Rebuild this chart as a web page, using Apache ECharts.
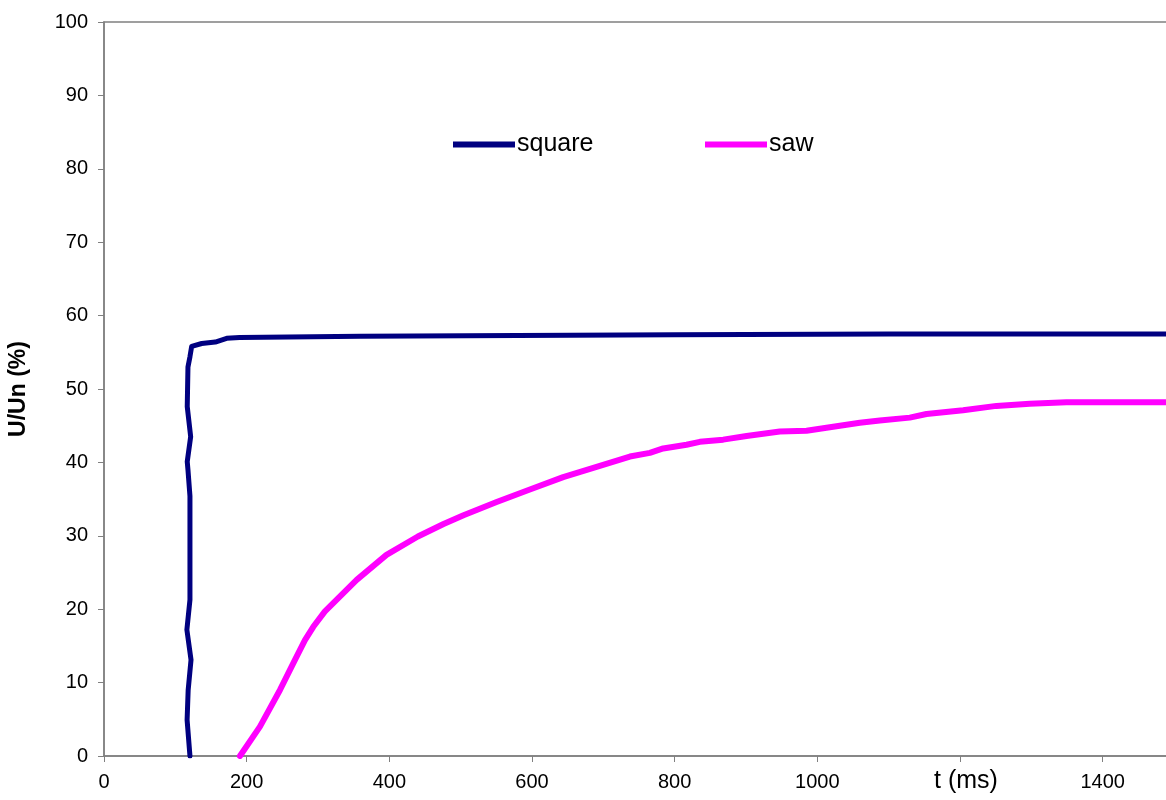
<!DOCTYPE html>
<html>
<head>
<meta charset="utf-8">
<script src="https://cdn.jsdelivr.net/npm/echarts@6/dist/echarts.min.js"></script>
<style>
html,body{margin:0;padding:0;background:#fff;}
#chart{width:1166px;height:800px;}
</style>
</head>
<body>
<div id="chart"></div>
<script>
// Data
const squareT = [120.5,116.5,118,122,116.2,120.5,120.5,117.7,116.7,121.5,116.7,117.7,120.5,122.9,125,137,156,172,190,360,800,1100,1500];
const squareU = [0,4.9,9,13.1,17.2,21.3,35.4,39,40.1,43.5,47.6,53,54.4,55.8,56.0,56.2,56.4,56.9,57.0,57.2,57.4,57.5,57.5];
const sawT = [190.6,218.6,246.7,267.7,281.7,293.4,309.7,354.2,396,440,476,504,550.4,597,643.7,690.5,737.2,765.2,783.9,816.6,835.3,868,900.8,947.4,984.9,1017.5,1059.6,1087.6,1129.6,1153,1204.4,1251.1,1297.8,1349.2,1500];
const sawU = [0,4.0,9.0,13.1,15.8,17.6,19.7,24.0,27.4,29.9,31.6,32.8,34.6,36.3,38.0,39.4,40.8,41.3,41.9,42.4,42.8,43.1,43.6,44.2,44.3,44.8,45.4,45.7,46.1,46.6,47.1,47.7,48.0,48.2,48.2];
const seriesNames = ['square','saw'];
const xTickHidden = [1200, 1500];
const xAxisTitle = 't (ms)';
const yAxisTitle = 'U/Un (%)';

const zip = (a,b) => a.map((v,i)=>[v,b[i]]);

const chart = echarts.init(document.getElementById('chart'), null, {renderer:'canvas'});
const font = 'Liberation Sans, Arial, sans-serif';
chart.setOption({
  animation:false,
  backgroundColor:'#fff',
  grid:{left:104,right:-8,top:22,bottom:44,outerBoundsMode:'none',containLabel:false,show:true,borderColor:'#808080',borderWidth:1.5,backgroundColor:'transparent'},
  legend:[
    {left:448,top:127,itemWidth:62,itemHeight:6,icon:'rect',data:[seriesNames[0]],
     textStyle:{fontFamily:font,fontSize:25,color:'#000',padding:[0,0,0,-3]}},
    {left:700,top:127,itemWidth:62,itemHeight:6,icon:'rect',data:[seriesNames[1]],
     textStyle:{fontFamily:font,fontSize:25,color:'#000',padding:[0,0,0,-3]}}
  ],
  xAxis:{type:'value',min:0,max:1500,interval:200,
    axisLine:{show:true,onZero:false,lineStyle:{color:'#808080',width:1.5}},
    axisTick:{show:true,inside:false,length:6,lineStyle:{color:'#808080'}},
    splitLine:{show:false},
    axisLabel:{fontFamily:font,fontSize:20,color:'#000',margin:16,showMaxLabel:false,
      formatter:v=> xTickHidden.includes(v)?'':String(v)}
  },
  yAxis:{type:'value',min:0,max:100,interval:10,
    name:yAxisTitle,nameLocation:'middle',nameRotate:90,nameGap:74,
    nameTextStyle:{fontFamily:font,fontSize:23,fontWeight:'bold',color:'#000'},
    axisLine:{show:true,lineStyle:{color:'#808080',width:1.5}},
    axisTick:{show:true,inside:false,length:6,lineStyle:{color:'#808080'}},
    splitLine:{show:false},
    axisLabel:{fontFamily:font,fontSize:20,color:'#000',margin:16}
  },
  graphic:[{type:'text',left:934,top:769,style:{text:xAxisTitle,fontFamily:font,fontSize:25,fill:'#000'}}],
  series:[
    {name:seriesNames[0],type:'line',data:zip(squareT,squareU),showSymbol:false,
     itemStyle:{color:'#000080'},lineStyle:{color:'#000080',width:5,join:'round',cap:'round'}},
    {name:seriesNames[1],type:'line',data:zip(sawT,sawU),showSymbol:false,
     itemStyle:{color:'#FF00FF'},lineStyle:{color:'#FF00FF',width:6,join:'round',cap:'round'}}
  ]
});
</script>
</body>
</html>
